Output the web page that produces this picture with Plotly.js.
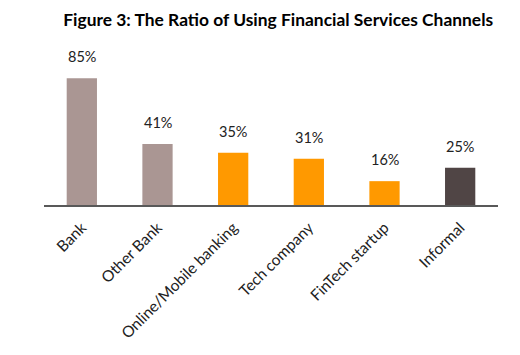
<!DOCTYPE html>
<html><head><meta charset="utf-8">
<script src="https://cdn.plot.ly/plotly-3.0.1.min.js"></script>
<style>html,body{margin:0;padding:0;background:#fff;}#chart{width:520px;height:355px;}</style>
</head><body><div id="chart"></div>
<script>
const categories = ["Bank", "Other Bank", "Online/Mobile banking", "Tech company", "FinTech startup", "Informal"];
const values = [85, 41, 35, 31, 16, 25];
const labels = ["85%", "41%", "35%", "31%", "16%", "25%"];
const colors = ["#aa9693", "#aa9693", "#ff9900", "#ff9900", "#ff9900", "#504545"];

const trace = {
  type: "bar",
  x: categories,
  y: values,
  marker: {color: colors},
  hoverinfo: "none"
};

const annotations = categories.map((c, i) => ({
  x: c, y: values[i], text: labels[i], showarrow: false,
  yanchor: "bottom", yshift: 11,
  font: {family: "Lato, sans-serif", size: 14.5, color: "#222"}
}));

const layout = {
  width: 520, height: 355,
  margin: {l: 44, r: 22, t: 56, b: 150},
  paper_bgcolor: "#fff", plot_bgcolor: "#fff",
  title: {text: "<b>Figure 3: The Ratio of Using Financial Services Channels</b>",
    x: 0.535, xanchor: "center", y: 0.945, yanchor: "middle",
    font: {family: "Lato, sans-serif", size: 17.4, color: "#000"}},
  bargap: 0.6,
  showlegend: false,
  xaxis: {showline: true, linecolor: "#595959", linewidth: 1.5, ticks: "",
    tickangle: -45, ticklabelstandoff: 6,
    tickfont: {family: "Lato, sans-serif", size: 15.5, color: "#222"},
    fixedrange: true},
  yaxis: {range: [0, 100], visible: false, showgrid: false, zeroline: false},
  annotations: annotations
};

Plotly.newPlot("chart", [trace], layout, {displayModeBar: false, staticPlot: true});
</script></body></html>
